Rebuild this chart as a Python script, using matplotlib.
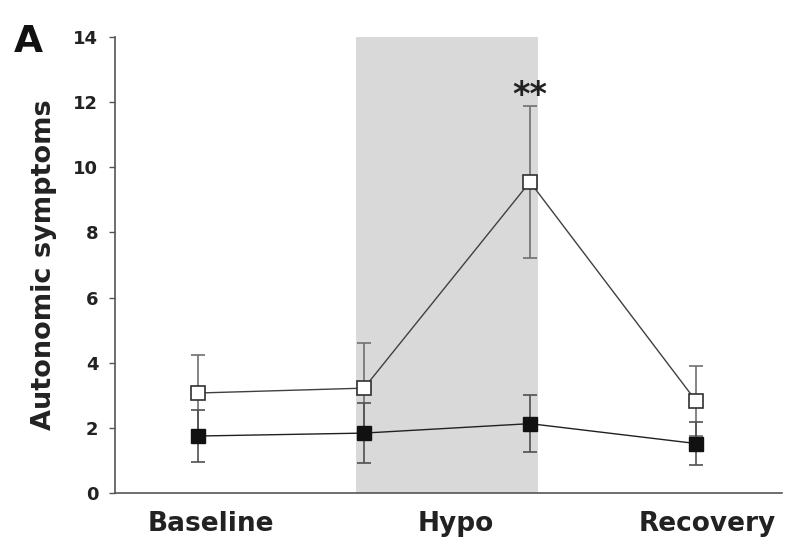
import matplotlib
matplotlib.use("Agg")
import matplotlib.pyplot as plt

plt.rcParams['font.family'] = ['DejaVu Sans']

timepoints = [1, 2, 3, 4]
open_vals = [3.07, 3.22, 9.55, 2.83]
open_err = [1.18, 1.38, 2.33, 1.07]
filled_vals = [1.75, 1.84, 2.13, 1.52]
filled_err = [0.80, 0.93, 0.88, 0.67]
xlabels = ["Baseline", "Hypo", "Recovery"]
xlabel_pos = [1.08, 2.55, 4.07]
yticks = [0, 2, 4, 6, 8, 10, 12, 14]
hypo_span = (1.95, 3.05)

fig = plt.figure(figsize=(7.85, 5.43), dpi=100)
ax = fig.add_axes([0.1465, 0.092, 0.85, 0.84])

ax.axvspan(hypo_span[0], hypo_span[1], color='#d9d9d9', lw=0, zorder=0)

ax.errorbar(timepoints, open_vals, yerr=open_err, fmt='none', ecolor='#707070',
            elinewidth=1.2, capsize=5, capthick=1.2, zorder=2)
ax.plot(timepoints, open_vals, color='#404040', lw=1.0, marker='s', markersize=10.5,
        markerfacecolor='white', markeredgecolor='#303030', markeredgewidth=1.2, zorder=3)

ax.errorbar(timepoints, filled_vals, yerr=filled_err, fmt='none', ecolor='#505050',
            elinewidth=1.2, capsize=5, capthick=1.2, zorder=4)
ax.plot(timepoints, filled_vals, color='#202020', lw=1.0, marker='s', markersize=10.5,
        markerfacecolor='#111111', markeredgecolor='#111111', zorder=5)

ax.text(timepoints[2], 12.2, "**", ha='center', va='center', fontsize=24,
        fontweight='bold', color='#222222')

ax.set_xlim(0.5, 4.52)
ax.set_ylim(0, 14)
ax.set_yticks(yticks)
ax.set_yticklabels([str(t) for t in yticks], fontsize=13, fontweight='bold', color='#222222')
ax.set_xticks(xlabel_pos)
ax.set_xticklabels(xlabels, fontsize=19, fontweight='bold', color='#222222')
ax.tick_params(axis='x', length=0, pad=13)
ax.tick_params(axis='y', direction='out', length=4, width=1, color='#555555', pad=8)
for s in ['top', 'right']:
    ax.spines[s].set_visible(False)
for s in ['left', 'bottom']:
    ax.spines[s].set_color('#555555')
    ax.spines[s].set_linewidth(1.2)
ax.set_ylabel("Autonomic symptoms", fontsize=19.5, fontweight='bold', color='#222222', labelpad=12)

fig.text(0.017, 0.905, "A", fontsize=27, fontweight='bold', color='#111111')

fig.savefig("out.png", dpi=100)
